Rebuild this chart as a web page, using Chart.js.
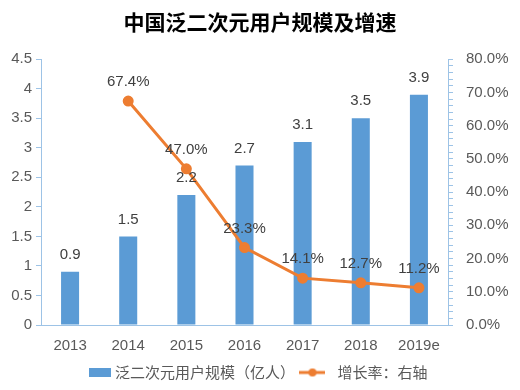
<!DOCTYPE html>
<html>
<head>
<meta charset="utf-8">
<script src="https://cdn.jsdelivr.net/npm/chart.js@4/dist/chart.umd.min.js"></script>
<style>
  body { margin: 0; background: #fff; }
  #wrap { width: 520px; height: 390px; }
</style>
</head>
<body>
<div id="wrap"><canvas id="myChart" width="520" height="390"></canvas></div>
<script>
// dados
const anos = ['2013', '2014', '2015', '2016', '2017', '2018', '2019e'];
const usuarios = [0.9, 1.5, 2.2, 2.7, 3.1, 3.5, 3.9];        // 亿人
const crescimento = [null, 67.4, 47.0, 23.3, 14.1, 12.7, 11.2]; // %
const ticksEsq = [0, 0.5, 1, 1.5, 2, 2.5, 3, 3.5, 4, 4.5];
const ticksDir = [0, 10, 20, 30, 40, 50, 60, 70, 80];

const azul = '#5B9BD5';
const laranja = '#ED7D31';
const eixo = '#9DC3E6';
const texto = '#595959';
const fonteNum = 'Liberation Sans, Arial, sans-serif';
const fonteCJK = '"Noto Sans CJK SC", sans-serif';

//icones da legenda
function iconeBarra(){
  let c = document.createElement('canvas');
  c.width = 22; c.height = 9;
  let ctx = c.getContext('2d');
  ctx.fillStyle = azul;
  ctx.fillRect(0, 0, 22, 9);
  return c;
}
function iconeLinha(){
  let c = document.createElement('canvas');
  c.width = 26; c.height = 10;
  let ctx = c.getContext('2d');
  ctx.strokeStyle = laranja;
  ctx.lineWidth = 3;
  ctx.beginPath(); ctx.moveTo(0, 5); ctx.lineTo(26, 5); ctx.stroke();
  ctx.fillStyle = laranja;
  ctx.beginPath(); ctx.arc(13, 5, 4, 0, Math.PI * 2); ctx.fill();
  return c;
}

//rotulos de dados em cima das barras e pontos
const rotulos = {
  id: 'rotulos',
  afterDatasetsDraw(chart){
    const ctx = chart.ctx;
    ctx.save();
    ctx.font = '15px ' + fonteNum;
    ctx.fillStyle = '#404040';
    ctx.textAlign = 'center';
    ctx.textBaseline = 'middle';
    chart.data.datasets.forEach(function(ds, i){
      const meta = chart.getDatasetMeta(i);
      meta.data.forEach(function(el, j){
        const v = ds.data[j];
        if (v === null || v === undefined) return;
        let txt = ds.type === 'line' ? v.toFixed(1) + '%' : String(v);
        let dy = ds.type === 'line' ? 19 : 17;
        ctx.fillText(txt, el.x, el.y - dy);
      });
    });
    ctx.restore();
  }
};

const data = {
  labels: anos,
  datasets: [
    {
      type: 'bar',
      label: '泛二次元用户规模（亿人）',
      data: usuarios,
      backgroundColor: azul,
      borderWidth: 0,
      barPercentage: 0.62,
      categoryPercentage: 0.5,
      yAxisID: 'y',
      order: 2
    },
    {
      type: 'line',
      label: '增长率：右轴',
      data: crescimento,
      borderColor: laranja,
      backgroundColor: laranja,
      borderWidth: 3,
      pointRadius: 4,
      pointHoverRadius: 4,
      tension: 0,
      yAxisID: 'y1',
      order: 1,
      pointStyle: 'circle'
    }
  ]
};

const config = {
  type: 'bar',
  data: data,
  plugins: [rotulos],
  options: {
    responsive: false,
    animation: false,
    layout: { padding: { left: 0, right: 0, top: 0, bottom: 0 } },
    plugins: {
      title: {
        display: true,
        text: '中国泛二次元用户规模及增速',
        color: '#000',
        font: { family: fonteCJK, size: 21, weight: 'bold' },
        padding: { top: 9, bottom: 25 }
      },
      legend: {
        position: 'bottom',
        labels: {
          usePointStyle: true,
          color: texto,
          font: { family: fonteCJK, size: 15 },
          padding: 10,
          generateLabels: function(chart){
            return [
              { text: '泛二次元用户规模（亿人）', pointStyle: iconeBarra(), fontColor: texto, datasetIndex: 0, lineWidth: 0, strokeStyle: 'transparent', fillStyle: azul },
              { text: '   增长率：右轴', pointStyle: iconeLinha(), fontColor: texto, datasetIndex: 1, lineWidth: 0, strokeStyle: 'transparent', fillStyle: laranja }
            ];
          }
        }
      },
      tooltip: { enabled: false }
    },
    scales: {
      x: {
        grid: { display: false, drawTicks: false },
        border: { color: eixo },
        ticks: { color: texto, font: { family: fonteNum, size: 15 }, padding: 12 },
        afterFit: function(s){ s.height = 30; }
      },
      y: {
        position: 'left',
        min: 0, max: 4.5,
        grid: { display: true, drawOnChartArea: false, tickLength: 5, color: eixo },
        border: { color: eixo },
        ticks: {
          color: texto, font: { family: fonteNum, size: 15 }, padding: 4,
          stepSize: 0.5,
          callback: function(v){ return ticksEsq.indexOf(v) >= 0 ? String(v) : ''; }
        },
        afterFit: function(s){ s.width = 41; }
      },
      y1: {
        position: 'right',
        min: 0, max: 80,
        grid: {
          display: true, drawOnChartArea: false, tickLength: 5,
          color: eixo
        },
        border: { color: eixo },
        ticks: {
          color: texto, font: { family: fonteNum, size: 15 }, padding: 13,
          stepSize: 2, autoSkip: false,
          callback: function(v){ return ticksDir.indexOf(v) >= 0 ? v.toFixed(1) + '%' : ''; }
        },
        afterFit: function(s){ s.width = 72; }
      }
    }
  }
};

const myChart = new Chart(document.getElementById('myChart'), config);
</script>
</body>
</html>
